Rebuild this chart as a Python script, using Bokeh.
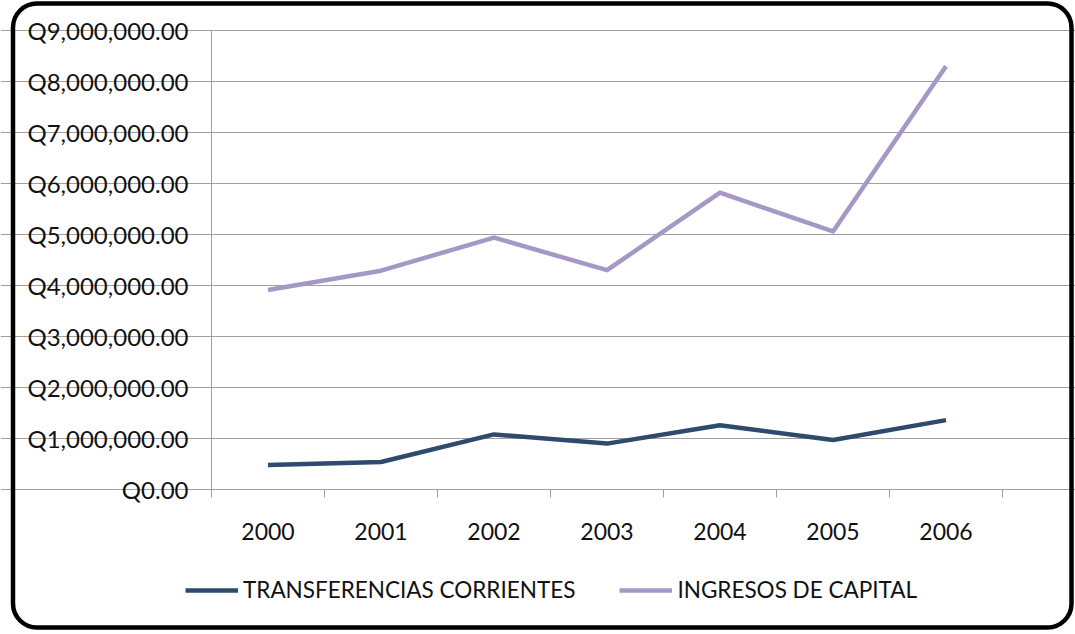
from bokeh.plotting import figure
from bokeh.models import FixedTicker, Legend, LegendItem, Range1d, BoxAnnotation
from bokeh.embed import file_html
from bokeh.resources import INLINE

years = ["2000", "2001", "2002", "2003", "2004", "2005", "2006"]
transferencias = [480000, 540000, 1080000, 900000, 1260000, 970000, 1360000]
ingresos = [3910000, 4290000, 4940000, 4300000, 5820000, 5060000, 8300000]
y_ticks = [0, 1000000, 2000000, 3000000, 4000000, 5000000, 6000000, 7000000, 8000000, 9000000]
y_tick_labels = ["Q0.00", "Q1,000,000.00", "Q2,000,000.00", "Q3,000,000.00", "Q4,000,000.00",
                 "Q5,000,000.00", "Q6,000,000.00", "Q7,000,000.00", "Q8,000,000.00", "Q9,000,000.00"]
series_names = ["TRANSFERENCIAS CORRIENTES", "INGRESOS DE CAPITAL"]
colors = ["#2E4A6D", "#A598C4"]

x = [i + 0.5 for i in range(len(years))]
boundaries = list(range(len(years) + 1))

FONT = "Lato"
GRAY = "#A0A0A0"

# layout (canvas pixels): plot area spans x 211..1002, y 30 (top) .. 489 (zero line)
W, H = 1075, 634
PX_LEFT, PX_RIGHT, PX_TOP, PX_ZERO = 211.0, 1002.0, 30.0, 489.0
n = len(years)
ymax = y_ticks[-1]
ux = (PX_RIGHT - PX_LEFT) / n
uy = (PX_ZERO - PX_TOP) / ymax
x_range = Range1d(-PX_LEFT / ux, n + (W - PX_RIGHT) / ux)
y_range = Range1d(-(H - PX_ZERO) / uy, ymax + PX_TOP / uy)

p = figure(width=W, height=H, output_backend="svg", toolbar_location=None, title=None,
           x_range=x_range, y_range=y_range,
           min_border_left=0, min_border_right=0, min_border_top=0, min_border_bottom=0)
p.outline_line_color = None
p.background_fill_color = "white"
p.border_fill_color = "white"

p.xgrid.visible = False
p.ygrid.grid_line_color = GRAY
p.ygrid.grid_line_width = 1
p.ygrid.bounds = (0, n)

yax = p.yaxis[0]
yax.fixed_location = 0
yax.bounds = (0, ymax)
yax.ticker = FixedTicker(ticks=y_ticks)
yax.major_label_overrides = {t: l for t, l in zip(y_ticks, y_tick_labels)}
yax.axis_line_color = GRAY
yax.major_tick_line_color = GRAY
yax.major_tick_out = 8
yax.major_tick_in = 0
yax.minor_tick_line_color = None
yax.major_label_text_font = FONT
yax.major_label_text_font_size = "24px"
yax.major_label_text_color = "#111111"
yax.major_label_standoff = 15

xax = p.xaxis[0]
xax.fixed_location = 0
xax.bounds = (0, n)
xax.ticker = FixedTicker(ticks=x, minor_ticks=boundaries)
xax.major_label_overrides = {t: l for t, l in zip(x, years)}
xax.axis_line_color = GRAY
xax.major_tick_line_color = None
xax.major_tick_out = 0
xax.major_tick_in = 0
xax.minor_tick_line_color = GRAY
xax.minor_tick_out = 8
xax.minor_tick_in = 0
xax.major_label_text_font = FONT
xax.major_label_text_font_size = "23px"
xax.major_label_text_color = "#111111"
xax.major_label_standoff = 25

r1 = p.line(x, transferencias, line_color=colors[0], line_width=4.5, line_join="round")
r2 = p.line(x, ingresos, line_color=colors[1], line_width=4.5, line_join="round")

legend = Legend(items=[LegendItem(label=series_names[0], renderers=[r1]),
                       LegendItem(label=series_names[1], renderers=[r2])],
                location=(185, 31), orientation="horizontal")
legend.border_line_color = None
legend.background_fill_alpha = 0
legend.label_text_font = FONT
legend.label_text_font_size = "22.5px"
legend.label_text_color = "#111111"
legend.glyph_width = 53
legend.label_standoff = 5
legend.spacing = 44
legend.padding = 0
legend.margin = 0
p.add_layout(legend, "center")

frame_box = BoxAnnotation(left=12.5, right=1071, top=7, bottom=631,
                          left_units="screen", right_units="screen",
                          top_units="screen", bottom_units="screen",
                          fill_alpha=0, line_color="black", line_alpha=1.0, line_width=4.5,
                          border_radius=24, level="overlay")
p.add_layout(frame_box)

open("out.html", "w").write(file_html(p, INLINE))
